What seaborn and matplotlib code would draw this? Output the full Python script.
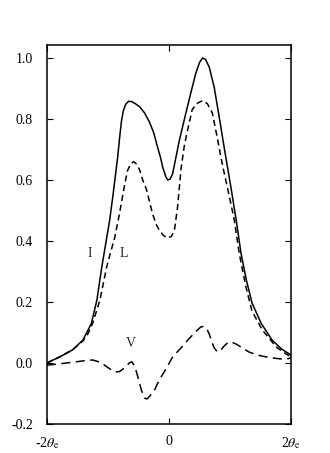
import matplotlib
matplotlib.use("Agg")
import matplotlib.pyplot as plt
import seaborn as sns

# Stokes profiles (x in units of theta_e)
i_x = [-2.0, -1.79, -1.58, -1.41, -1.27, -1.18, -1.1, -1.02, -0.97, -0.92, -0.88, -0.84,
       -0.81, -0.78, -0.75, -0.71, -0.66, -0.61, -0.55, -0.48, -0.4, -0.32, -0.25, -0.19,
       -0.14, -0.1, -0.05, -0.02, 0.02, 0.06, 0.11, 0.17, 0.23, 0.29, 0.37, 0.44, 0.5,
       0.55, 0.6, 0.66, 0.74, 0.82, 0.91, 1.02, 1.1, 1.18, 1.27, 1.36, 1.51, 1.69, 1.85, 2.0]
i_y = [0.0, 0.02, 0.043, 0.075, 0.13, 0.207, 0.315, 0.41, 0.47, 0.545, 0.61, 0.675,
       0.735, 0.79, 0.825, 0.848, 0.858, 0.857, 0.85, 0.84, 0.82, 0.79, 0.755, 0.71,
       0.675, 0.64, 0.61, 0.60, 0.603, 0.62, 0.67, 0.73, 0.78, 0.83, 0.895, 0.95, 0.985,
       1.0, 0.995, 0.97, 0.905, 0.81, 0.70, 0.57, 0.47, 0.36, 0.27, 0.197, 0.13, 0.075, 0.045, 0.026]

l_x = [-2.0, -1.79, -1.58, -1.41, -1.33, -1.25, -1.13, -1.02, -0.96, -0.89, -0.85, -0.81,
       -0.77, -0.73, -0.68, -0.63, -0.58, -0.53, -0.48, -0.43, -0.37, -0.32, -0.27, -0.21,
       -0.16, -0.09, -0.02, 0.04, 0.09, 0.14, 0.2, 0.25, 0.29, 0.38, 0.45, 0.55, 0.63,
       0.71, 0.79, 0.87, 0.99, 1.07, 1.15, 1.26, 1.36, 1.53, 1.76, 1.9, 2.0]
l_y = [0.0, 0.02, 0.043, 0.072, 0.095, 0.13, 0.207, 0.315, 0.36, 0.41, 0.45, 0.49,
       0.535, 0.58, 0.63, 0.652, 0.66, 0.652, 0.633, 0.6, 0.57, 0.53, 0.49, 0.455,
       0.436, 0.418, 0.41, 0.415, 0.436, 0.51, 0.64, 0.71, 0.75, 0.83, 0.85, 0.86, 0.85,
       0.82, 0.74, 0.655, 0.545, 0.469, 0.36, 0.25, 0.17, 0.108, 0.052, 0.032, 0.02]

v_x = [-2.0, -1.8, -1.6, -1.4, -1.25, -1.12, -1.0, -0.89, -0.81, -0.72, -0.65, -0.61,
       -0.56, -0.51, -0.45, -0.4, -0.36, -0.32, -0.24, -0.16, -0.05, 0.06, 0.2, 0.33,
       0.45, 0.52, 0.57, 0.62, 0.66, 0.7, 0.74, 0.79, 0.84, 0.9, 0.96, 1.02, 1.1, 1.2,
       1.31, 1.45, 1.59, 1.72, 1.85, 1.95, 2.0]
v_y = [-0.007, -0.003, 0.002, 0.007, 0.01, 0.002, -0.015, -0.03, -0.028, -0.015, 0.0, 0.004,
       -0.01, -0.045, -0.09, -0.115, -0.118, -0.11, -0.09, -0.056, -0.02, 0.02, 0.05, 0.08,
       0.105, 0.118, 0.12, 0.112, 0.095, 0.07, 0.05, 0.037, 0.04, 0.055, 0.066, 0.069, 0.062, 0.05,
       0.036, 0.026, 0.02, 0.016, 0.013, 0.014, 0.017]

x_ticks = [-2, 0, 2]
x_labels = [r"-2$\theta_{\rm e}$", "0", r"2$\theta_{\rm e}$"]
y_ticks = [-0.2, 0.0, 0.2, 0.4, 0.6, 0.8, 1.0]

sns.set_style("ticks")
plt.rcParams["font.family"] = ["Liberation Serif", "DejaVu Serif"]
plt.rcParams["mathtext.fontset"] = "stix"

fig = plt.figure(figsize=(3.3, 4.53), dpi=100)
ax = fig.add_axes([0.142, 0.064, 0.74, 0.837])

sns.lineplot(x=i_x, y=i_y, ax=ax, color="black", linewidth=1.1)
sns.lineplot(x=l_x, y=l_y, ax=ax, color="black", linewidth=1.1, linestyle=(0, (4, 2.5)))
sns.lineplot(x=v_x, y=v_y, ax=ax, color="black", linewidth=1.1, linestyle=(0, (6, 3.5)))

ax.text(-1.3, 0.36, "I", fontsize=10, ha="center", va="center")
ax.text(-0.74, 0.36, "L", fontsize=10, ha="center", va="center")
ax.text(-0.63, 0.065, "V", fontsize=10, ha="center", va="center")

ax.set_xlim(-2, 2)
ax.set_ylim(-0.2, 1.043)
ax.set_xticks(x_ticks)
ax.set_xticklabels(x_labels)
ax.set_yticks(y_ticks)
ax.set_yticklabels([f"{t:.1f}" for t in y_ticks])
ax.tick_params(direction="in", right=True, top=True, length=4, width=0.8,
               labelsize=10, colors="black")
ax.tick_params(axis="x", pad=8)
ax.tick_params(axis="y", pad=10)
for s in ax.spines.values():
    s.set_linewidth(1.1)
    s.set_color("black")

fig.savefig("out.png", dpi=100)
